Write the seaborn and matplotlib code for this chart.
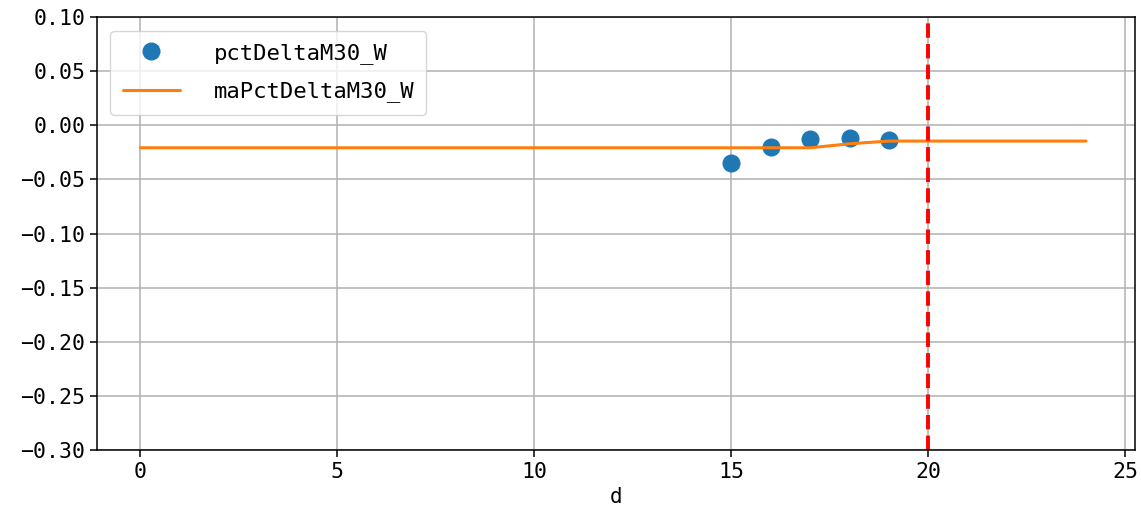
import matplotlib
matplotlib.use("Agg")
import matplotlib.pyplot as plt
import seaborn as sns
import pandas as pd

# data
d_points = [15, 16, 17, 18, 19]
pct_delta = [-0.0351, -0.0203, -0.0129, -0.0120, -0.0139]
d_line = list(range(0, 25))
ma_pct_delta = [-0.0207] * 18 + [-0.0170] + [-0.0145] * 6
vline_x = 20
yticks = [0.10, 0.05, 0.00, -0.05, -0.10, -0.15, -0.20, -0.25, -0.30]
xticks = [0, 5, 10, 15, 20, 25]

sns.set_style("ticks", {"axes.edgecolor": "black", "xtick.color": "black",
                        "ytick.color": "black", "text.color": "black",
                        "axes.labelcolor": "black"})
plt.rcParams['font.family'] = ['DejaVu Sans Mono']
plt.rcParams['font.size'] = 16

fig, ax = plt.subplots(figsize=(11.41, 5.23), dpi=100)
fig.subplots_adjust(left=0.085, right=0.995, top=0.967, bottom=0.14)

sns.lineplot(x=d_points, y=pct_delta, ax=ax, marker='o', linestyle='', markersize=13,
             markeredgewidth=0, color='#1f77b4', label='pctDeltaM30_W')
sns.lineplot(x=d_line, y=ma_pct_delta, ax=ax, color='#ff7f0e', linewidth=2.2,
             label='maPctDeltaM30_W')
ax.axvline(vline_x, color='red', linestyle='--', linewidth=2.8)

ax.set_ylim(-0.30, 0.10)
ax.set_yticks(yticks)
ax.set_xticks(xticks)
ax.set_xlim(-1.1, 25.25)
ax.grid(True, color='#b0b0b0', linewidth=1.1)
ax.set_xlabel('d', fontsize=15)
for s in ax.spines.values():
    s.set_linewidth(1.1)
ax.tick_params(width=1.1, length=5, labelsize=15.5)
ax.legend(loc='upper left', handlelength=2.6, handletextpad=1.5, fontsize=16,
          framealpha=0.8, labelspacing=0.8, borderpad=0.55, borderaxespad=0.6)

fig.savefig('out.png', dpi=100)
